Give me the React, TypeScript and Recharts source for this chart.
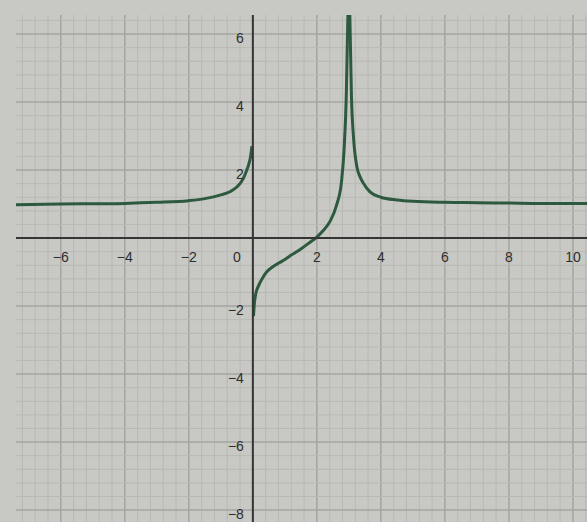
import React from 'react';
import { LineChart, Line, XAxis, YAxis, ReferenceLine, ReferenceDot } from 'recharts';

// left branch (x < 0), runs into the y axis near y = 2.6
const leftX = [-7.4, -6, -5, -4, -3, -2, -1.5, -1, -0.7, -0.5, -0.3, -0.2, -0.12, -0.07, -0.03];
const leftY = [0.98, 1.0, 1.01, 1.02, 1.05, 1.1, 1.16, 1.27, 1.37, 1.5, 1.75, 1.97, 2.2, 2.4, 2.7];

// middle branch (0 < x < 3), leaves the y axis near y = -2
const midX = [0.02, 0.05, 0.1, 0.17, 0.3, 0.43, 0.6, 0.84, 1.0, 1.2, 1.5, 1.75, 2.0, 2.2, 2.41, 2.62, 2.77, 2.85, 2.92, 2.97];
const midY = [-2.3, -1.9, -1.6, -1.42, -1.18, -1.0, -0.86, -0.72, -0.63, -0.5, -0.32, -0.15, 0.03, 0.22, 0.49, 0.98, 1.66, 2.6, 4.2, 6.56];

// right branch (x > 3)
const rightX = [3.03, 3.08, 3.15, 3.25, 3.35, 3.45, 3.66, 4.0, 4.5, 5, 6, 7, 8, 9, 10.44];
const rightY = [6.56, 4.2, 2.9, 2.1, 1.8, 1.62, 1.36, 1.2, 1.12, 1.08, 1.05, 1.04, 1.03, 1.02, 1.02];

const xTicks = [-6, -4, -2, 2, 4, 6, 8, 10];
const yTicks = [6, 4, 2, -2, -4, -6, -8];

// graph paper: minor squares every 0.4, heavier lines every 2
const xGrid = Array.from({ length: 45 }, (_, i) => +(-7.2 + i * 0.4).toFixed(1));
const yGrid = Array.from({ length: 37 }, (_, i) => +(-8 + i * 0.4).toFixed(1));
const isMajor = (v: number) => Math.abs(v / 2 - Math.round(v / 2)) < 0.01;

const toPts = (xs: number[], ys: number[]) => xs.map((x, i) => ({ x, y: ys[i] }));

const fmt = (v: number) => (v < 0 ? `\u2212${-v}` : `${v}`);
const textStyle = { fontFamily: '"Liberation Sans", Arial, sans-serif', fontSize: 14, fill: '#2e2e2e' };

const curve = '#2d5a3f';

export default function App() {
  return (
    <div style={{ position: 'absolute', left: 0, top: 0, width: 587, height: 522, background: '#c8c8c4' }}>
      <LineChart width={587} height={522} margin={{ top: 15, right: 0, bottom: 0, left: 16 }}>
        <XAxis dataKey="x" type="number" domain={[-7.4, 10.44]} allowDataOverflow hide />
        <YAxis dataKey="y" type="number" domain={[-8.35, 6.56]} allowDataOverflow hide />

        {xGrid.map(v => (
          <ReferenceLine key={`gx${v}`} x={v} stroke={isMajor(v) ? '#a4a4a2' : '#b8b8b5'} strokeWidth={isMajor(v) ? 1.5 : 1} />
        ))}
        {yGrid.map(v => (
          <ReferenceLine key={`gy${v}`} y={v} stroke={isMajor(v) ? '#a4a4a2' : '#b8b8b5'} strokeWidth={isMajor(v) ? 1.5 : 1} />
        ))}

        <Line data={toPts(leftX, leftY)} dataKey="y" type="monotone" stroke={curve} strokeWidth={3} dot={false} isAnimationActive={false} />
        <Line data={toPts(midX, midY)} dataKey="y" type="monotone" stroke={curve} strokeWidth={3} dot={false} isAnimationActive={false} />
        <Line data={toPts(rightX, rightY)} dataKey="y" type="monotone" stroke={curve} strokeWidth={3} dot={false} isAnimationActive={false} />

        <ReferenceLine x={0} stroke="#353535" strokeWidth={2} />
        <ReferenceLine y={0} stroke="#353535" strokeWidth={2} />

        {xTicks.map(v => (
          <ReferenceDot key={`lx${v}`} x={v} y={0} r={1} fill="none" stroke="none"
            label={(p: any) => (
              <text x={p.viewBox.x + 1} y={p.viewBox.y + 25} textAnchor="middle" style={textStyle}>{fmt(v)}</text>
            )} />
        ))}
        <ReferenceDot x={0} y={0} r={1} fill="none" stroke="none"
          label={(p: any) => (
            <text x={p.viewBox.x - 15} y={p.viewBox.y + 25} textAnchor="middle" style={textStyle}>0</text>
          )} />
        {yTicks.map(v => (
          <ReferenceDot key={`ly${v}`} x={0} y={v} r={1} fill="none" stroke="none"
            label={(p: any) => (
              <text x={p.viewBox.x - 8} y={p.viewBox.y + 10} textAnchor="end" style={textStyle}>{fmt(v)}</text>
            )} />
        ))}
      </LineChart>
    </div>
  );
}
